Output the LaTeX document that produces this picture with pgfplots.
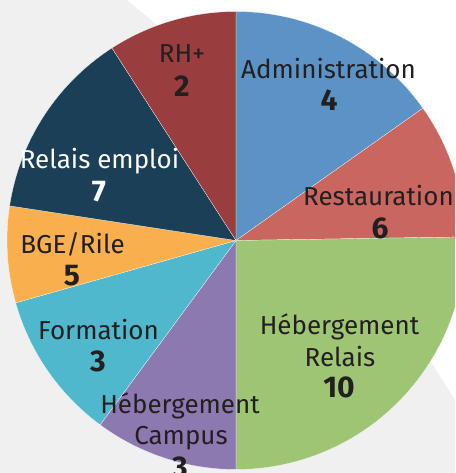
\documentclass[border=0pt]{standalone}
\usepackage{pgfplots}
\pgfplotsset{compat=1.18}
\usepackage{pgfplotstable}
\usepackage{fontspec}
\setmainfont{Fira Sans}
\definecolor{c0}{HTML}{5B93C7}
\definecolor{c1}{HTML}{C8665F}
\definecolor{c2}{HTML}{9DC574}
\definecolor{c3}{HTML}{8C79B0}
\definecolor{c4}{HTML}{4FB8CC}
\definecolor{c5}{HTML}{F9AF4E}
\definecolor{c6}{HTML}{1C3F58}
\definecolor{c7}{HTML}{9A3D3F}
\definecolor{bg}{HTML}{F0F0F0}
\definecolor{txt}{HTML}{231F20}
\pgfplotstableread{
name value
Administration 54.7
Restauration 34.4
HebergementRelais 90.9
HebergementCampus 36.4
Formation 37.8
BGE/Rile 24.5
RelaisEmploi 48.5
RH+ 32.8
}\piedata
\newcommand{\lab}{\fontsize{26}{30}\selectfont}
\newcommand{\num}{\fontsize{30}{34}\selectfont\bfseries}
\begin{document}
\begin{tikzpicture}
\useasboundingbox (0,0) rectangle (455pt,473pt);
\clip (0,0) rectangle (455pt,473pt);
\gdef\cum{90}
\foreach \i in {0,...,7}{%
  \pgfplotstablegetelem{\i}{value}\of\piedata
  \pgfmathsetmacro\e{\cum-\pgfplotsretval}%
  \expandafter\xdef\csname st\i\endcsname{\cum}%
  \expandafter\xdef\csname en\i\endcsname{\e}%
  \xdef\cum{\e}%
}
\begin{axis}[scale only axis, width=455pt, height=473pt,
  xmin=0, xmax=455, ymin=0, ymax=473, hide axis, clip=true]
\fill[bg] (axis cs:0,0) rectangle (axis cs:455,473);
\fill[white] (axis cs:127,473) -- (axis cs:455,473) -- (axis cs:455,73) -- (axis cs:430,113) -- (axis cs:236,232.5) -- (axis cs:200,413) -- cycle;
\pgfplotsinvokeforeach{0,...,7}{%
  \fill[c#1, draw=white, line width=0.2pt, line join=round] (axis cs:236,232.5) -- ++(\csname st#1\endcsname:229pt)
    arc[start angle=\csname st#1\endcsname, end angle=\csname en#1\endcsname, radius=229pt] -- cycle;
}
\begin{scope}[every node/.style={text=txt, inner sep=0pt, anchor=base}]
\node at (axis cs:328.5,394.7) {\lab Administration};
\node at (axis cs:329,362.3) {\num 4};
\node[anchor=base west] at (axis cs:303,267) {\lab Restauration};
\node at (axis cs:380,234) {\num 6};
\node[text=white] at (axis cs:99.5,304.7) {\lab Relais emploi};
\node[text=white] at (axis cs:99,271) {\num 7};
\node at (axis cs:72.5,219) {\lab BGE/Rile};
\node at (axis cs:72,187) {\num 5};
\node at (axis cs:98.5,133) {\lab Formation};
\node at (axis cs:98,101) {\num 3};
\node at (axis cs:180,59) {\lab Hébergement};
\node at (axis cs:181,28) {\lab Campus};
\node at (axis cs:180,-5) {\num 3};
\node at (axis cs:339.5,138) {\lab Hébergement};
\node at (axis cs:340,106) {\lab Relais};
\node at (axis cs:339,75) {\num 10};
\node at (axis cs:182,410) {\lab RH+};
\node at (axis cs:182,376) {\num 2};
\end{scope}
\end{axis}
\end{tikzpicture}
\end{document}
